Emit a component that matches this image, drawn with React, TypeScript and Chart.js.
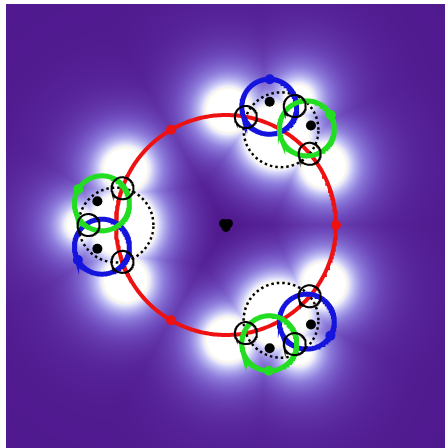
import React, { useEffect, useRef } from "react";
import { Chart, registerables } from "chart.js";

Chart.register(...registerables);

// ---- data (units: main red circle radius = 1, axes span -2..2) ----
const RED_RADIUS = 1.0;
const redDotAngles = [0, 120, 240];
const clusterAngles = [60, 180, 300];
const DOTTED_RADIUS = 0.34;
const SMALL_RADIUS = 0.1;
// small black circles, local polar (distance from cluster centre, angle offset from outward dir)
const smallDist = [0.34, 0.25, 0.34];
const smallAngle = [100, 0, -100];
// black dots inside each cluster
const blackDotDist = [0.275, 0.275];
const blackDotAngle = [52, -52];
// green / blue orbit circles
const ORBIT_DIST = 0.235;
const ORBIT_RADIUS = 0.25;
const greenAngle = -57;
const blueAngle = 57;
const greenDotAngle = -31;
const blueDotAngle = 29;
// black centre marks
const centerDotX = [-0.022, 0.022, 0.0];
const centerDotY = [0.014, 0.014, -0.022];
// glow sources per cluster (local polar) and white core radii
const glowDist = [0.07, 0.325, 0.51, 0.51];
const glowAngle = [180, 0, 100, -100];
const glowCore = [0.28, 0.11, 0.19, 0.19];

const cmapStops = [0, 0.1, 0.3, 0.5, 0.7, 0.86, 0.95, 1];
const cmapColors = [
  [70, 10, 132],
  [82, 28, 145],
  [110, 74, 188],
  [142, 126, 220],
  [190, 188, 242],
  [236, 236, 252],
  [252, 249, 234],
  [255, 255, 255],
];

const rad = (d: number) => (d * Math.PI) / 180;
function clusterCenter(a: number) {
  return { x: RED_RADIUS * Math.cos(rad(a)), y: RED_RADIUS * Math.sin(rad(a)) };
}
function local(a: number, dist: number, off: number) {
  const c = clusterCenter(a);
  return { x: c.x + dist * Math.cos(rad(a + off)), y: c.y + dist * Math.sin(rad(a + off)) };
}
function circle(cx: number, cy: number, r: number, n = 180) {
  const pts: { x: number; y: number }[] = [];
  for (let i = 0; i <= n; i++) {
    const t = (2 * Math.PI * i) / n;
    pts.push({ x: cx + r * Math.cos(t), y: cy + r * Math.sin(t) });
  }
  return pts;
}

function cmap(t: number) {
  if (t <= 0) return cmapColors[0];
  if (t >= 1) return cmapColors[cmapColors.length - 1];
  for (let i = 1; i < cmapStops.length; i++) {
    if (t <= cmapStops[i]) {
      const f = (t - cmapStops[i - 1]) / (cmapStops[i] - cmapStops[i - 1]);
      const a = cmapColors[i - 1], b = cmapColors[i];
      return [a[0] + (b[0] - a[0]) * f, a[1] + (b[1] - a[1]) * f, a[2] + (b[2] - a[2]) * f];
    }
  }
  return cmapColors[cmapColors.length - 1];
}

const heatPlugin = {
  id: "heat",
  beforeDatasetsDraw(chart: any) {
    const { ctx } = chart;
    const xs = chart.scales.x, ys = chart.scales.y;
    const x0 = 6, y0 = 4;
    const w = Math.round(chart.width - x0), h = Math.round(chart.height - y0);
    const img = ctx.createImageData(w, h);
    const xv = new Float64Array(w), yv = new Float64Array(h);
    for (let i = 0; i < w; i++) xv[i] = xs.getValueForPixel(x0 + i + 0.5);
    for (let j = 0; j < h; j++) yv[j] = ys.getValueForPixel(y0 + j + 0.5);
    const src: { x: number; y: number; r: number }[] = [];
    clusterAngles.forEach((a) => {
      glowDist.forEach((d, k) => {
        const p = local(a, d, glowAngle[k]);
        src.push({ x: p.x, y: p.y, r: glowCore[k] });
      });
    });
    const L1 = 0.2, L2 = 0.45;
    for (let j = 0; j < h; j++) {
      for (let i = 0; i < w; i++) {
        const X = xv[i], Y = yv[j];
        const rr = Math.sqrt(X * X + Y * Y);
        let s = 1e9;
        for (let k = 0; k < src.length; k++) {
          const dx = X - src[k].x, dy = Y - src[k].y;
          const v = Math.sqrt(dx * dx + dy * dy) - src[k].r;
          if (v < s) s = v;
        }
        let t: number;
        if (s <= 0) t = 1;
        else t = 0.8 * Math.exp(-s / L1) + 0.14 * Math.exp(-s / L2);
        t = Math.min(1, t + 0.01 + 0.07 * Math.min(rr / 2.0, 1));
        const c = cmap(t);
        const o = (j * w + i) * 4;
        img.data[o] = c[0];
        img.data[o + 1] = c[1];
        img.data[o + 2] = c[2];
        img.data[o + 3] = 255;
      }
    }
    ctx.putImageData(img, x0, y0);
  },
};

function lineDs(pts: any[], color: string, width: number, order: number, dash: number[] = []) {
  return {
    data: pts,
    showLine: true,
    borderColor: color,
    borderWidth: width,
    borderDash: dash,
    pointRadius: 0,
    pointHoverRadius: 0,
    fill: false,
    tension: 0,
    order,
  };
}
function pointDs(pts: any[], color: string, radius: number, order: number) {
  return {
    data: pts,
    showLine: false,
    pointRadius: radius,
    pointBackgroundColor: color,
    pointBorderColor: color,
    pointBorderWidth: 0,
    order,
  };
}

export default function App() {
  const ref = useRef<HTMLCanvasElement>(null);
  useEffect(() => {
    document.body.style.margin = "0";
    const datasets: any[] = [];
    const RED = "#ee1111", GREEN = "#22dd22", BLUE = "#1414dc";
    datasets.push(lineDs(circle(0, 0, RED_RADIUS, 360), RED, 4, 9));
    datasets.push(
      pointDs(redDotAngles.map((a) => ({ x: RED_RADIUS * Math.cos(rad(a)), y: RED_RADIUS * Math.sin(rad(a)) })), RED, 5, 8)
    );
    const blackDots: any[] = [], greenDots: any[] = [], blueDots: any[] = [];
    clusterAngles.forEach((a) => {
      const c = clusterCenter(a);
      datasets.push(lineDs(circle(c.x, c.y, DOTTED_RADIUS, 240), "#000", 2.5, 7, [2.5, 3]));
      const g = local(a, ORBIT_DIST, greenAngle);
      const b = local(a, ORBIT_DIST, blueAngle);
      datasets.push(lineDs(circle(b.x, b.y, ORBIT_RADIUS), BLUE, 5, 6));
      datasets.push(lineDs(circle(g.x, g.y, ORBIT_RADIUS), GREEN, 5, 5));
      smallDist.forEach((d, k) => {
        const p = local(a, d, smallAngle[k]);
        datasets.push(lineDs(circle(p.x, p.y, SMALL_RADIUS, 120), "#000", 2, 4));
      });
      blackDotDist.forEach((d, k) => blackDots.push(local(a, d, blackDotAngle[k])));
      greenDots.push({ x: g.x + ORBIT_RADIUS * Math.cos(rad(a + greenDotAngle)), y: g.y + ORBIT_RADIUS * Math.sin(rad(a + greenDotAngle)) });
      blueDots.push({ x: b.x + ORBIT_RADIUS * Math.cos(rad(a + blueDotAngle)), y: b.y + ORBIT_RADIUS * Math.sin(rad(a + blueDotAngle)) });
    });
    datasets.push(pointDs(blackDots, "#000", 5, 3));
    datasets.push(pointDs(greenDots, GREEN, 5, 2));
    datasets.push(pointDs(blueDots, BLUE, 5, 2));
    datasets.push(pointDs(centerDotX.map((x, i) => ({ x, y: centerDotY[i] })), "#000", 4.5, 1));

    const chart = new Chart(ref.current!, {
      type: "scatter",
      data: { datasets },
      options: {
        animation: false,
        responsive: false,
        devicePixelRatio: 1,
        events: [],
        layout: { padding: { left: 6, top: 5, right: 1, bottom: 1 } },
        plugins: { legend: { display: false }, tooltip: { enabled: false } },
        scales: {
          x: { type: "linear", min: -2, max: 2, display: false },
          y: { type: "linear", min: -2, max: 2, display: false },
        },
      },
      plugins: [heatPlugin],
    } as any);
    return () => chart.destroy();
  }, []);
  return (
    <div style={{ width: 445, height: 448, overflow: "hidden", background: "#fff" }}>
      <canvas ref={ref} width={451} height={450} style={{ display: "block" }} />
    </div>
  );
}
